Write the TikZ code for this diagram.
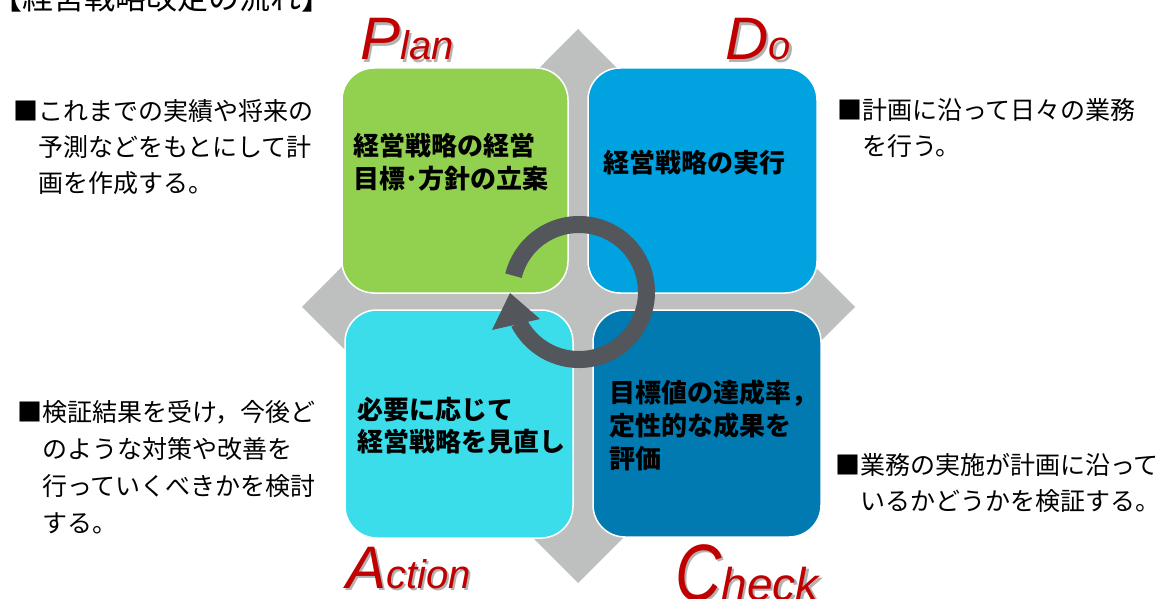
\documentclass[tikz,border=0pt]{standalone}
\usepackage{fontspec}
\usepackage{graphicx}
\newfontfamily\jp{Noto Sans CJK JP}
\newfontfamily\latf{Liberation Sans}
\definecolor{pgreen}{HTML}{92D050}
\definecolor{dblue}{HTML}{00A2E0}
\definecolor{acyan}{HTML}{3CDDEB}
\definecolor{cblue}{HTML}{007AB0}
\definecolor{dgray}{HTML}{BEBFBF}
\definecolor{ringc}{HTML}{53565B}
\definecolor{pred}{HTML}{C00000}
\tikzset{
  quad/.style={draw=white, line width=1.5pt, rounded corners=32pt, inner sep=0pt},
  btext/.style={anchor=base west, inner sep=0pt, font=\jp\bfseries\fontsize{26}{26}\selectfont, text=black},
  stext/.style={anchor=base west, inner sep=0pt, font=\jp\fontsize{25}{25}\selectfont, text=black},
  letter/.style={anchor=base west, inner sep=0pt, font=\latf\itshape, text=pred},
  lshadow/.style={anchor=base west, inner sep=0pt, font=\latf\itshape, text=black!30},
}
\newcommand{\PDbig}[1]{{\fontsize{60}{60}\selectfont #1}}
\newcommand{\PDsmall}[1]{{\fontsize{40}{40}\selectfont #1}}
\newcommand{\CheckWord}{{\fontsize{80}{80}\selectfont\scalebox{0.8}[1]{C}}{\fontsize{46}{46}\selectfont heck}}
\begin{document}
\begin{tikzpicture}[x=1pt,y=-1pt]
\useasboundingbox (0,0) rectangle (1170,599);
\clip (0,0) rectangle (1170,599);
\fill[white] (0,0) rectangle (1170,599);

% title (cut off at top)
\node[anchor=base west, inner sep=0pt, font=\jp\fontsize{31}{31}\selectfont] (title) at (-9,10) {【経営戦略改定の流れ】};

% grey diamond
\fill[dgray] (578,29) -- (855,307) -- (578,583) -- (302,307) -- cycle;

% quadrants
\node[quad, fill=pgreen, minimum width=226pt, minimum height=225pt] (plan) at (455,180.5) {};
\node[quad, fill=dblue, minimum width=229pt, minimum height=225pt] (do) at (702.5,180.5) {};
\node[quad, fill=acyan, minimum width=228pt, minimum height=228pt] (act) at (459,424) {};
\node[quad, fill=cblue, minimum width=228pt, minimum height=227pt] (check) at (707,423.5) {};

% cycle arrow
\draw[ringc, line width=17pt] ([shift={(579,292)}]194:67.5) arc[start angle=194, end angle=513, radius=67.5];
\fill[ringc] (492,330) -- (510,293) -- (540,319) -- cycle;

% box texts
\node[btext] (p1) at (353,156) {経営戦略の経営};
\node[btext] (p2) at (353,189) {目標･方針の立案};
\node[btext] (d1) at (603,172) {経営戦略の実行};
\node[btext] (a1) at (357,419) {必要に応じて};
\node[btext] (a2) at (357,451) {経営戦略を見直し};
\node[btext] (c1) at (609,402) {目標値の達成率，};
\node[btext] (c2) at (609,435) {定性的な成果を};
\node[btext] (c3) at (609,468) {評価};

% side texts
\node[stext] (lt1) at (13,120.5) {■これまでの実績や将来の};
\node[stext] (lt2) at (38,156.5) {予測などをもとにして計};
\node[stext] (lt3) at (38,192.5) {画を作成する。};
\node[stext] (rt1) at (837,119.5) {■計画に沿って日々の業務};
\node[stext] (rt2) at (862,155.5) {を行う。};
\node[stext] (lb1) at (17,421.5) {■検証結果を受け，今後ど};
\node[stext] (lb2) at (42,458.5) {のような対策や改善を};
\node[stext] (lb3) at (42,495.5) {行っていくべきかを検討};
\node[stext] (lb4) at (42,532.5) {する。};
\node[stext] (rb1) at (835,474.5) {■業務の実施が計画に沿って};
\node[stext] (rb2) at (860,510.5) {いるかどうかを検証する。};

% PDCA letters with shadow
\node[lshadow] (plans) at (362.5,62.5) {\PDbig{P}\PDsmall{lan}};
\node[letter] (planw) at (360,60) {\PDbig{P}\PDsmall{lan}};
\node[lshadow] (dos) at (727.5,62.5) {\PDbig{D}\PDsmall{o}};
\node[letter] (dow) at (725,60) {\PDbig{D}\PDsmall{o}};
\node[lshadow] (acts) at (348.5,590.5) {\PDbig{A}\PDsmall{ction}};
\node[letter] (actw) at (346,588) {\PDbig{A}\PDsmall{ction}};
\node[lshadow] (checks) at (677.5,602.5) {\CheckWord};
\node[letter] (checkw) at (675,600) {\CheckWord};
\end{tikzpicture}
\end{document}
